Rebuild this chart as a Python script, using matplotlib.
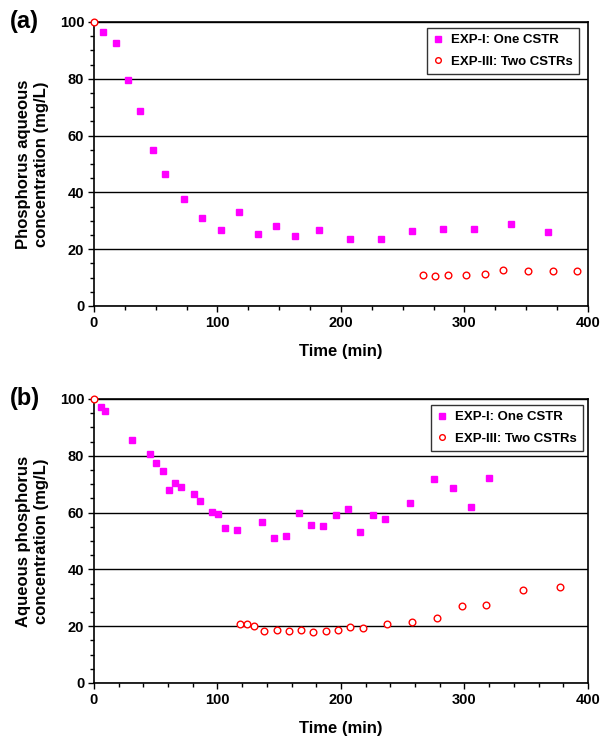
import matplotlib.pyplot as plt
from matplotlib.ticker import MultipleLocator

plt.rcParams['font.family'] = ['Liberation Sans', 'DejaVu Sans']
plt.rcParams['font.weight'] = 'bold'

# panel (a)
a_exp1_t = [7.5, 17.8, 27.5, 37.5, 47.5, 57.7, 72.9, 87.7, 102.6, 117.4, 132.5,
            147.6, 162.5, 182.4, 207.5, 232.4, 257.5, 282.3, 307.5, 337.4, 367.6]
a_exp1_c = [96.6, 92.7, 79.6, 68.7, 54.8, 46.6, 37.7, 31.1, 26.6, 33.2, 25.5,
            28.1, 24.8, 26.6, 23.6, 23.6, 26.5, 27.2, 27.1, 29.0, 25.9]
a_exp3_t = [0, 266.4, 276.4, 286.4, 301.4, 316.3, 331.4, 351.4, 371.4, 391.3]
a_exp3_c = [100, 10.9, 10.4, 11.0, 10.8, 11.1, 12.5, 12.2, 12.4, 12.3]

# panel (b)
b_exp1_t = [5.4, 8.7, 30.5, 45.6, 50.5, 55.6, 60.5, 65.6, 70.7, 80.7, 85.6,
            95.8, 100.7, 105.8, 115.5, 135.8, 145.5, 155.7, 165.7, 175.4, 185.7,
            195.6, 205.6, 215.4, 225.7, 235.6, 255.6, 275.6, 290.4, 305.3, 319.6]
b_exp1_c = [97.2, 95.9, 85.6, 80.6, 77.5, 74.8, 68.1, 70.3, 69.0, 66.7, 64.1,
            60.1, 59.6, 54.5, 53.8, 56.6, 51.1, 51.6, 59.8, 55.6, 55.4,
            59.3, 61.2, 53.2, 59.2, 57.7, 63.4, 72.0, 68.5, 61.9, 72.3]
b_exp3_t = [0, 118.5, 123.6, 129.6, 137.7, 147.9, 157.6, 167.6, 177.6, 187.6,
            197.6, 207.4, 217.6, 237.5, 257.5, 277.7, 297.7, 317.4, 347.4, 377.3]
b_exp3_c = [100, 20.7, 20.9, 20.0, 18.4, 18.6, 18.2, 18.5, 18.1, 18.2,
            18.8, 19.7, 19.4, 20.6, 21.6, 22.8, 27.2, 27.4, 32.6, 33.7]

labels = ['EXP-I: One CSTR', 'EXP-III: Two CSTRs']

fig = plt.figure(figsize=(6.08, 7.43), dpi=100)
ax1 = fig.add_axes([0.1546, 0.5882, 0.8125, 0.3822])
ax2 = fig.add_axes([0.1546, 0.0808, 0.8125, 0.3822])

panels = [
    (ax1, a_exp1_t, a_exp1_c, a_exp3_t, a_exp3_c, 25,
     'Phosphorus aqueous\nconcentration (mg/L)', '(a)', (0.982, 0.979)),
    (ax2, b_exp1_t, b_exp1_c, b_exp3_t, b_exp3_c, 20,
     'Aqueous phosphorus\nconcentration (mg/L)', '(b)', (0.99, 0.979)),
]

for ax, t1, c1, t3, c3, xminor, ylab, tag, legpos in panels:
    ax.plot(t1, c1, 's', color='#FF00FF', markersize=4.8, linestyle='none',
            label=labels[0], zorder=3, clip_on=False)
    ax.plot(t3, c3, 'o', markerfacecolor='white', markeredgecolor='#FF0000',
            markeredgewidth=1.0, markersize=4.8, linestyle='none',
            label=labels[1], zorder=4, clip_on=False)
    ax.set_xlim(0, 400)
    ax.set_ylim(0, 100)
    ax.xaxis.set_major_locator(MultipleLocator(100))
    ax.xaxis.set_minor_locator(MultipleLocator(xminor))
    ax.yaxis.set_major_locator(MultipleLocator(20))
    ax.yaxis.set_minor_locator(MultipleLocator(5))
    ax.grid(axis='y', which='major', color='black', linewidth=1.0)
    ax.set_axisbelow(True)
    ax.tick_params(which='both', direction='out', top=False, right=False,
                   labelsize=10.5, width=1.0)
    ax.tick_params(which='major', length=4, pad=3)
    ax.tick_params(which='minor', length=3)
    for lab in ax.get_xticklabels() + ax.get_yticklabels():
        lab.set_fontweight('bold')
    for sp in ax.spines.values():
        sp.set_linewidth(1.2)
    ax.set_xlabel('Time (min)', fontsize=12, fontweight='bold', labelpad=10)
    ax.set_ylabel(ylab, fontsize=12, fontweight='bold', labelpad=8)
    ax.text(-0.17, 1.0, tag, transform=ax.transAxes, fontsize=17,
            fontweight='bold', va='center', ha='left')
    leg = ax.legend(loc='upper right', bbox_to_anchor=legpos, frameon=True,
                    fancybox=False, edgecolor='black',
                    handlelength=0.8, handletextpad=0.6, borderpad=0.45,
                    labelspacing=0.7, borderaxespad=0.0, markerscale=0.85,
                    prop={'weight': 'bold', 'size': 9.5})
    leg.get_frame().set_linewidth(1.0)

fig.savefig('out.png', dpi=100)
